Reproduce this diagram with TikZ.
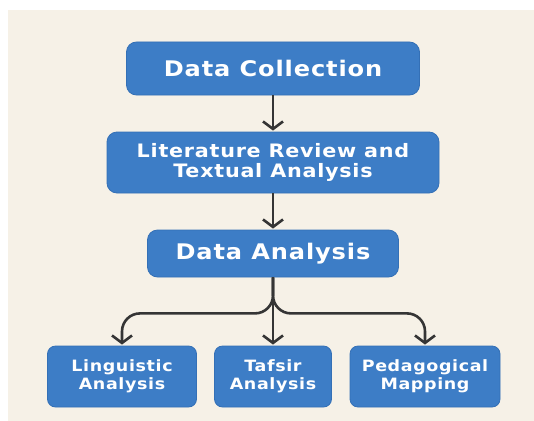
\documentclass[tikz,border=0pt]{standalone}
\usepackage{fontspec}
\newfontfamily\boxfont{DejaVu Sans}[FakeStretch=1.12,LetterSpace=4]
\usetikzlibrary{arrows.meta}
\definecolor{paper}{HTML}{F6F1E7}
\definecolor{boxblue}{HTML}{3D7DC6}
\definecolor{boxedge}{HTML}{3470B6}
\definecolor{wire}{HTML}{353535}

\begin{document}
\begin{tikzpicture}[x=1pt,y=-1pt,
  stage/.style={rectangle, rounded corners=10pt, fill=boxblue, draw=boxedge,
    line width=0.8pt, text=white, align=center, inner sep=0pt},
  bigtext/.style={font=\boxfont\bfseries\fontsize{21.5}{23}\selectfont},
  midtext/.style={font=\boxfont\bfseries\fontsize{18.5}{20}\selectfont},
  smalltext/.style={font=\boxfont\bfseries\fontsize{15.6}{18.3}\selectfont},
  conn/.style={draw=wire, line width=2.6pt,
    -{Straight Barb[length=7.5pt,width=20pt]}, shorten >=1pt}]

% page and paper (the paper runs out past the page edge on the right and bottom)
\useasboundingbox (0,0) rectangle (534,420);
\fill[white] (-5,-5) rectangle (540,426);
\fill[paper] (8,10) rectangle (540,426);

% process stages
\node[stage, bigtext, minimum width=293pt, minimum height=53pt]
  (collect) at (273,68.5) {Data Collection};
\node[stage, midtext, minimum width=332pt, minimum height=61pt]
  (review) at (273,162.5) {Literature Review and\\Textual Analysis};
\node[stage, bigtext, minimum width=251pt, minimum height=47pt]
  (analysis) at (273,253.5) {Data Analysis};

% branches
\node[stage, smalltext, rounded corners=8pt, minimum width=149pt, minimum height=61pt]
  (ling) at (122,376.5) {Linguistic\\Analysis};
\node[stage, smalltext, rounded corners=8pt, minimum width=117pt, minimum height=61pt]
  (tafsir) at (273,376.5) {Tafsir\\Analysis};
\node[stage, smalltext, rounded corners=8pt, minimum width=150pt, minimum height=61pt]
  (peda) at (425,376.5) {Pedagogical\\Mapping};

% connectors
\draw[conn] (collect.south) -- (review.north);
\draw[conn] (review.south) -- (analysis.north);
\draw[conn] (analysis.south) -- (tafsir.north);
\draw[conn, rounded corners=18pt] (analysis.south) -- ++(0,36) -| (ling.north);
\draw[conn, rounded corners=18pt] (analysis.south) -- ++(0,36) -| (peda.north);
\end{tikzpicture}
\end{document}
